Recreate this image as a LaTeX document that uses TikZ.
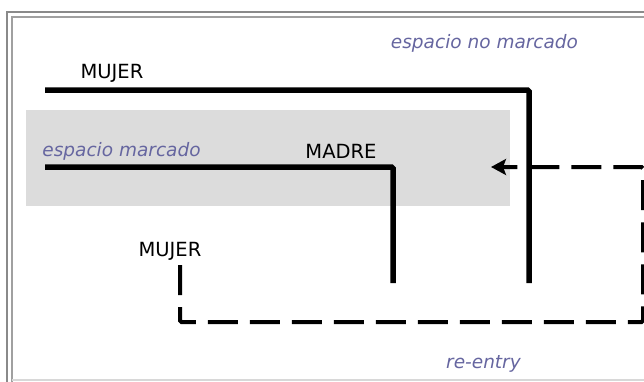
\documentclass[tikz,border=0pt]{standalone}
\usepackage{fontspec}
\setmainfont{DejaVu Sans}
\usetikzlibrary{arrows.meta}
\definecolor{framedark}{RGB}{138,138,138}
\definecolor{framelight}{RGB}{160,160,160}
\definecolor{framebottom}{RGB}{216,216,216}
\definecolor{markfill}{RGB}{220,220,220}
\definecolor{labelblue}{RGB}{102,102,160}
\tikzset{
  word/.style={anchor=base, inner sep=0pt, font=\fontsize{19.5}{22}\selectfont},
  spacelabel/.style={anchor=base, inner sep=0pt, text=labelblue, font=\fontsize{18.5}{22}\selectfont\itshape},
  distinction/.style={line width=5.5pt, rounded corners=1.5pt},
  reentryline/.style={line width=4pt, dash pattern=on 30pt off 12pt, rounded corners=1.5pt}
}
\begin{document}
\begin{tikzpicture}[x=1pt,y=-1pt]
\useasboundingbox (0,0) rectangle (644,381);
\clip (0,0) rectangle (644,381);
% frame
\draw[framedark, line width=2pt] (7,395) -- (7,12) -- (660,12);
\draw[framelight, line width=1.5pt] (12,395) -- (12,17) -- (660,17);
\draw[framebottom, line width=1.2pt] (12,380) -- (660,380);
% marked space
\fill[markfill] (26,110) rectangle (510,206);
% labels
\node[spacelabel] (nomarcado) at (484.5,48) {espacio no marcado};
\node[spacelabel] (marcado) at (121.5,156) {espacio marcado};
\node[spacelabel, fill=white, inner xsep=39pt, inner ysep=5pt] (reentry) at (483.5,368) {re-entry};
\node[word] (mujerA) at (112,78) {MUJER};
\node[word] (madre) at (341,158) {MADRE};
\node[word] (mujerB) at (170,256) {MUJER};
% coordinates
\coordinate (a0) at (45,90);
\coordinate (a1) at (529,90);
\coordinate (a2) at (529,283);
\coordinate (b0) at (45,167);
\coordinate (b1) at (393,167);
\coordinate (b2) at (393,283);
\coordinate (c0) at (180,265);
\coordinate (c1) at (180,322);
\coordinate (c2) at (643,322);
\coordinate (c3) at (643,167);
\coordinate (c4) at (491,167);
% distinctions
\draw[distinction] (a0) -- (a1) -- (a2);
\draw[distinction] (b0) -- (b1) -- (b2);
% re-entry
\draw[reentryline, -{Stealth[length=15pt, width=16pt, inset=3pt]}] (c0) -- (c1) -- (c2) -- (c3) -- (c4);
\end{tikzpicture}
\end{document}
